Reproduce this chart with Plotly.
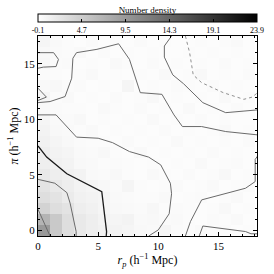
import plotly.graph_objects as go

# ---------------- data ----------------
rp_centers = [i + 0.5 for i in range(18)]
pi_centers = list(range(18))

density_rows = [
    [9.5, 5.0, 3.0, 2.0, 1.5, 1.2, 1.0, 0.8, 0.6, 0.5, 0.8, 0.4, 0.3, 0.5, 0.3, 0.4, 0.2, 0.3],
    [7.0, 5.0, 3.0, 2.0, 1.5, 1.0, 0.8, 1.0, 0.5, 0.6, 0.4, 0.5, 0.3, 0.2, 0.4, 0.3, 0.5, 0.2],
    [4.0, 3.0, 2.5, 1.5, 1.2, 0.8, 0.6, 0.5, 0.4, 0.7, 0.3, 0.4, 0.3, 0.2, 0.3, 0.6, 0.2, 0.3],
    [3.0, 2.5, 1.8, 1.2, 1.0, 0.8, 0.5, 0.4, 0.3, 0.3, 0.5, 0.2, 0.3, 0.4, 0.2, 0.3, 0.5, 0.2],
    [2.5, 2.0, 1.5, 1.0, 0.8, 0.6, 0.4, 0.8, 0.3, 0.2, 0.3, 0.4, 0.2, 0.3, 0.5, 0.2, 0.3, 0.4],
    [2.0, 1.5, 1.2, 1.0, 0.5, 0.4, 0.6, 0.3, 0.2, 0.5, 0.3, 0.2, 0.4, 0.2, 0.3, 0.6, 0.2, 0.3],
    [1.5, 1.2, 1.0, 0.6, 0.5, 0.3, 0.4, 0.3, 0.2, 0.3, 0.2, 0.3, 0.2, 0.5, 0.2, 0.3, 0.4, 0.2],
    [1.5, 1.0, 0.8, 0.5, 0.4, 0.6, 0.3, 0.2, 0.5, 0.2, 0.3, 0.2, 0.3, 0.2, 0.4, 0.2, 0.3, 0.2],
    [1.2, 0.8, 0.6, 0.4, 0.3, 0.3, 0.2, 0.4, 0.2, 0.3, 0.2, 0.5, 0.2, 0.3, 0.2, 0.3, 0.2, 0.4],
    [1.0, 0.6, 0.5, 0.3, 0.5, 0.2, 0.3, 0.2, 0.3, 0.2, 0.4, 0.2, 0.3, 0.2, 0.3, 0.5, 0.2, 0.3],
    [0.8, 0.5, 0.4, 0.6, 0.2, 0.3, 0.2, 0.3, 0.2, 0.5, 0.2, 0.3, 0.2, 0.4, 0.2, 0.3, 0.2, 0.2],
    [0.6, 0.4, 0.3, 0.3, 0.2, 0.5, 0.3, 0.2, 0.4, 0.2, 0.3, 0.2, 0.5, 0.2, 0.3, 0.2, 0.4, 0.2],
    [0.8, 0.3, 0.5, 0.2, 0.3, 0.2, 0.4, 0.2, 0.3, 0.6, 0.2, 0.3, 0.2, 0.3, 0.2, 0.5, 0.2, 0.3],
    [0.5, 0.6, 0.3, 0.4, 0.2, 0.3, 0.2, 0.8, 0.2, 0.3, 0.2, 0.4, 0.3, 0.2, 0.4, 0.2, 0.3, 0.2],
    [0.4, 0.3, 0.2, 0.3, 0.5, 0.2, 0.3, 0.2, 0.3, 0.2, 0.5, 0.2, 0.3, 0.6, 0.2, 0.3, 0.2, 0.4],
    [0.7, 0.3, 0.4, 0.2, 0.3, 0.2, 0.5, 0.3, 0.2, 0.4, 0.2, 0.3, 0.2, 0.3, 0.2, 0.4, 0.2, 0.3],
    [0.6, 0.4, 0.3, 0.5, 0.2, 0.4, 0.2, 0.3, 0.2, 0.3, 0.2, 0.2, 0.3, 0.2, 0.3, 0.2, 0.3, 0.2],
    [0.8, 0.5, 0.3, 0.2, 0.4, 0.2, 0.3, 0.2, 0.4, 0.2, 0.3, 0.2, 0.2, 0.3, 0.2, 0.3, 0.5, 0.2],
]

cbar_ticks = [-0.1, 4.7, 9.5, 14.3, 19.1, 23.9]

# contour lines (rp, pi)
c_inner_rp = [0.0, 1.0]
c_inner_pi = [1.9, -0.5]

c_black_rp = [0.0, 0.72, 2.4, 5.3, 5.7, 5.67]
c_black_pi = [7.6, 6.6, 5.1, 3.5, -0.1, -0.5]

c_g2_rp = [0.0, 1.4, 2.4, 2.67, 3.17, 3.17]
c_g2_pi = [4.6, 4.25, 3.4, 2.45, -0.1, -0.5]

c_g4_rp = [0.0, 1.5, 3.2, 5.0, 6.2, 7.6, 9.2, 10.2, 11.0, 11.1, 10.9, 10.0, 9.2]
c_g4_pi = [10.4, 10.4, 8.4, 8.3, 7.9, 7.1, 6.6, 5.9, 4.25, 3.3, 1.5, 0.05, -0.5]

c_g5_rp = [0.0, 1.0, 2.25, 2.8, 2.9, 3.2, 4.9, 6.7, 7.6, 8.5, 10.3, 11.3, 12.0, 13.6, 15.6, 18.25]
c_g5_pi = [11.5, 11.6, 12.05, 13.7, 15.5, 16.0, 16.3, 16.8, 15.4, 12.4, 12.25, 10.4, 9.35, 9.35, 8.9, 8.6]

c_loop_rp = [0.0, 1.3, 1.7, 1.5, 0.45, 0.0]
c_loop_pi = [16.0, 16.0, 15.4, 14.75, 14.7, 14.6]

c_v_rp = [0.0, 0.7, 0.0]
c_v_pi = [12.8, 12.0, 11.7]

c_g8_rp = [11.1, 10.5, 10.5, 11.2, 12.1, 13.7, 15.6, 18.25]
c_g8_pi = [17.5, 16.6, 15.6, 14.0, 13.2, 11.5, 10.6, 10.85]

c_dot_rp = [12.25, 12.6, 12.9, 13.6, 15.4, 17.1, 17.8, 18.25]
c_dot_pi = [17.5, 16.0, 14.0, 13.3, 12.4, 11.8, 12.0, 12.4]

c_g10_rp = [12.25, 12.67, 13.6, 17.25, 18.05, 18.05, 18.25]
c_g10_pi = [-0.5, 0.8, 2.75, 3.8, 4.4, 6.4, 6.7]

c_g11_rp = [13.4, 13.7, 17.25, 17.7, 18.25]
c_g11_pi = [-0.5, 0.4, -0.1, -0.3, -0.3]

# ---------------- figure ----------------
SERIF = "Liberation Serif, DejaVu Serif, serif"
fig = go.Figure()

fig.add_trace(go.Heatmap(
    x=rp_centers, y=pi_centers, z=density_rows,
    zmin=-0.1, zmax=23.9,
    colorscale=[[0, "#ffffff"], [1, "#000000"]],
    colorbar=dict(
        orientation="h", x=0.5, xanchor="center", y=1.158, yanchor="top",
        len=1.0, lenmode="fraction", thickness=8,
        outlinecolor="black", outlinewidth=1,
        tickvals=cbar_ticks, ticktext=[f"{t:.1f}" for t in cbar_ticks],
        ticks="inside", ticklen=3, tickcolor="black",
        tickfont=dict(family=SERIF, size=8, color="black"),
        title=dict(text="Number density", side="top",
                   font=dict(family=SERIF, size=9, color="black")),
        ypad=0, xpad=0,
    ),
    showscale=True, hoverinfo="skip",
))

grey = "#6a6a6a"
lines = [
    (c_inner_rp, c_inner_pi, grey, 1, "solid"),
    (c_black_rp, c_black_pi, "#1a1a1a", 1.3, "solid"),
    (c_g2_rp, c_g2_pi, grey, 1, "solid"),
    (c_g4_rp, c_g4_pi, grey, 1, "solid"),
    (c_g5_rp, c_g5_pi, grey, 1, "solid"),
    (c_loop_rp, c_loop_pi, grey, 1, "solid"),
    (c_v_rp, c_v_pi, grey, 1, "solid"),
    (c_g8_rp, c_g8_pi, grey, 1, "solid"),
    (c_dot_rp, c_dot_pi, "#909090", 1, "dot"),
    (c_g10_rp, c_g10_pi, grey, 1, "solid"),
    (c_g11_rp, c_g11_pi, grey, 1, "solid"),
]
for xs, ys, col, w, dash in lines:
    fig.add_trace(go.Scatter(x=xs, y=ys, mode="lines",
                             line=dict(color=col, width=w, dash=dash),
                             showlegend=False, hoverinfo="skip"))

axis_common = dict(
    showgrid=False, zeroline=False, showline=True, linecolor="black", linewidth=1,
    mirror="allticks", ticks="inside", ticklen=4, tickcolor="black",
    tickfont=dict(family=SERIF, size=11, color="black"),
    minor=dict(ticks="inside", ticklen=2, dtick=1, tickcolor="black"),
    dtick=5, tick0=0,
)
fig.update_xaxes(range=[0, 18.2],
                 title=dict(text="<i>r</i><sub><i>p</i></sub> (h<sup>−1</sup> Mpc)",
                            font=dict(family=SERIF, size=12, color="black"), standoff=3),
                 **axis_common)
fig.update_yaxes(range=[-0.5, 17.5],
                 title=dict(text="<i>π</i> (h<sup>−1</sup> Mpc)",
                            font=dict(family=SERIF, size=12, color="black"), standoff=2),
                 **axis_common)

fig.update_layout(
    width=274, height=274,
    margin=dict(l=38, r=17, t=36, b=38, autoexpand=False),
    paper_bgcolor="white", plot_bgcolor="white",
    showlegend=False,
)

fig.write_html("out.html", config={"displayModeBar": False},
               post_script="document.body.style.margin='0';")
